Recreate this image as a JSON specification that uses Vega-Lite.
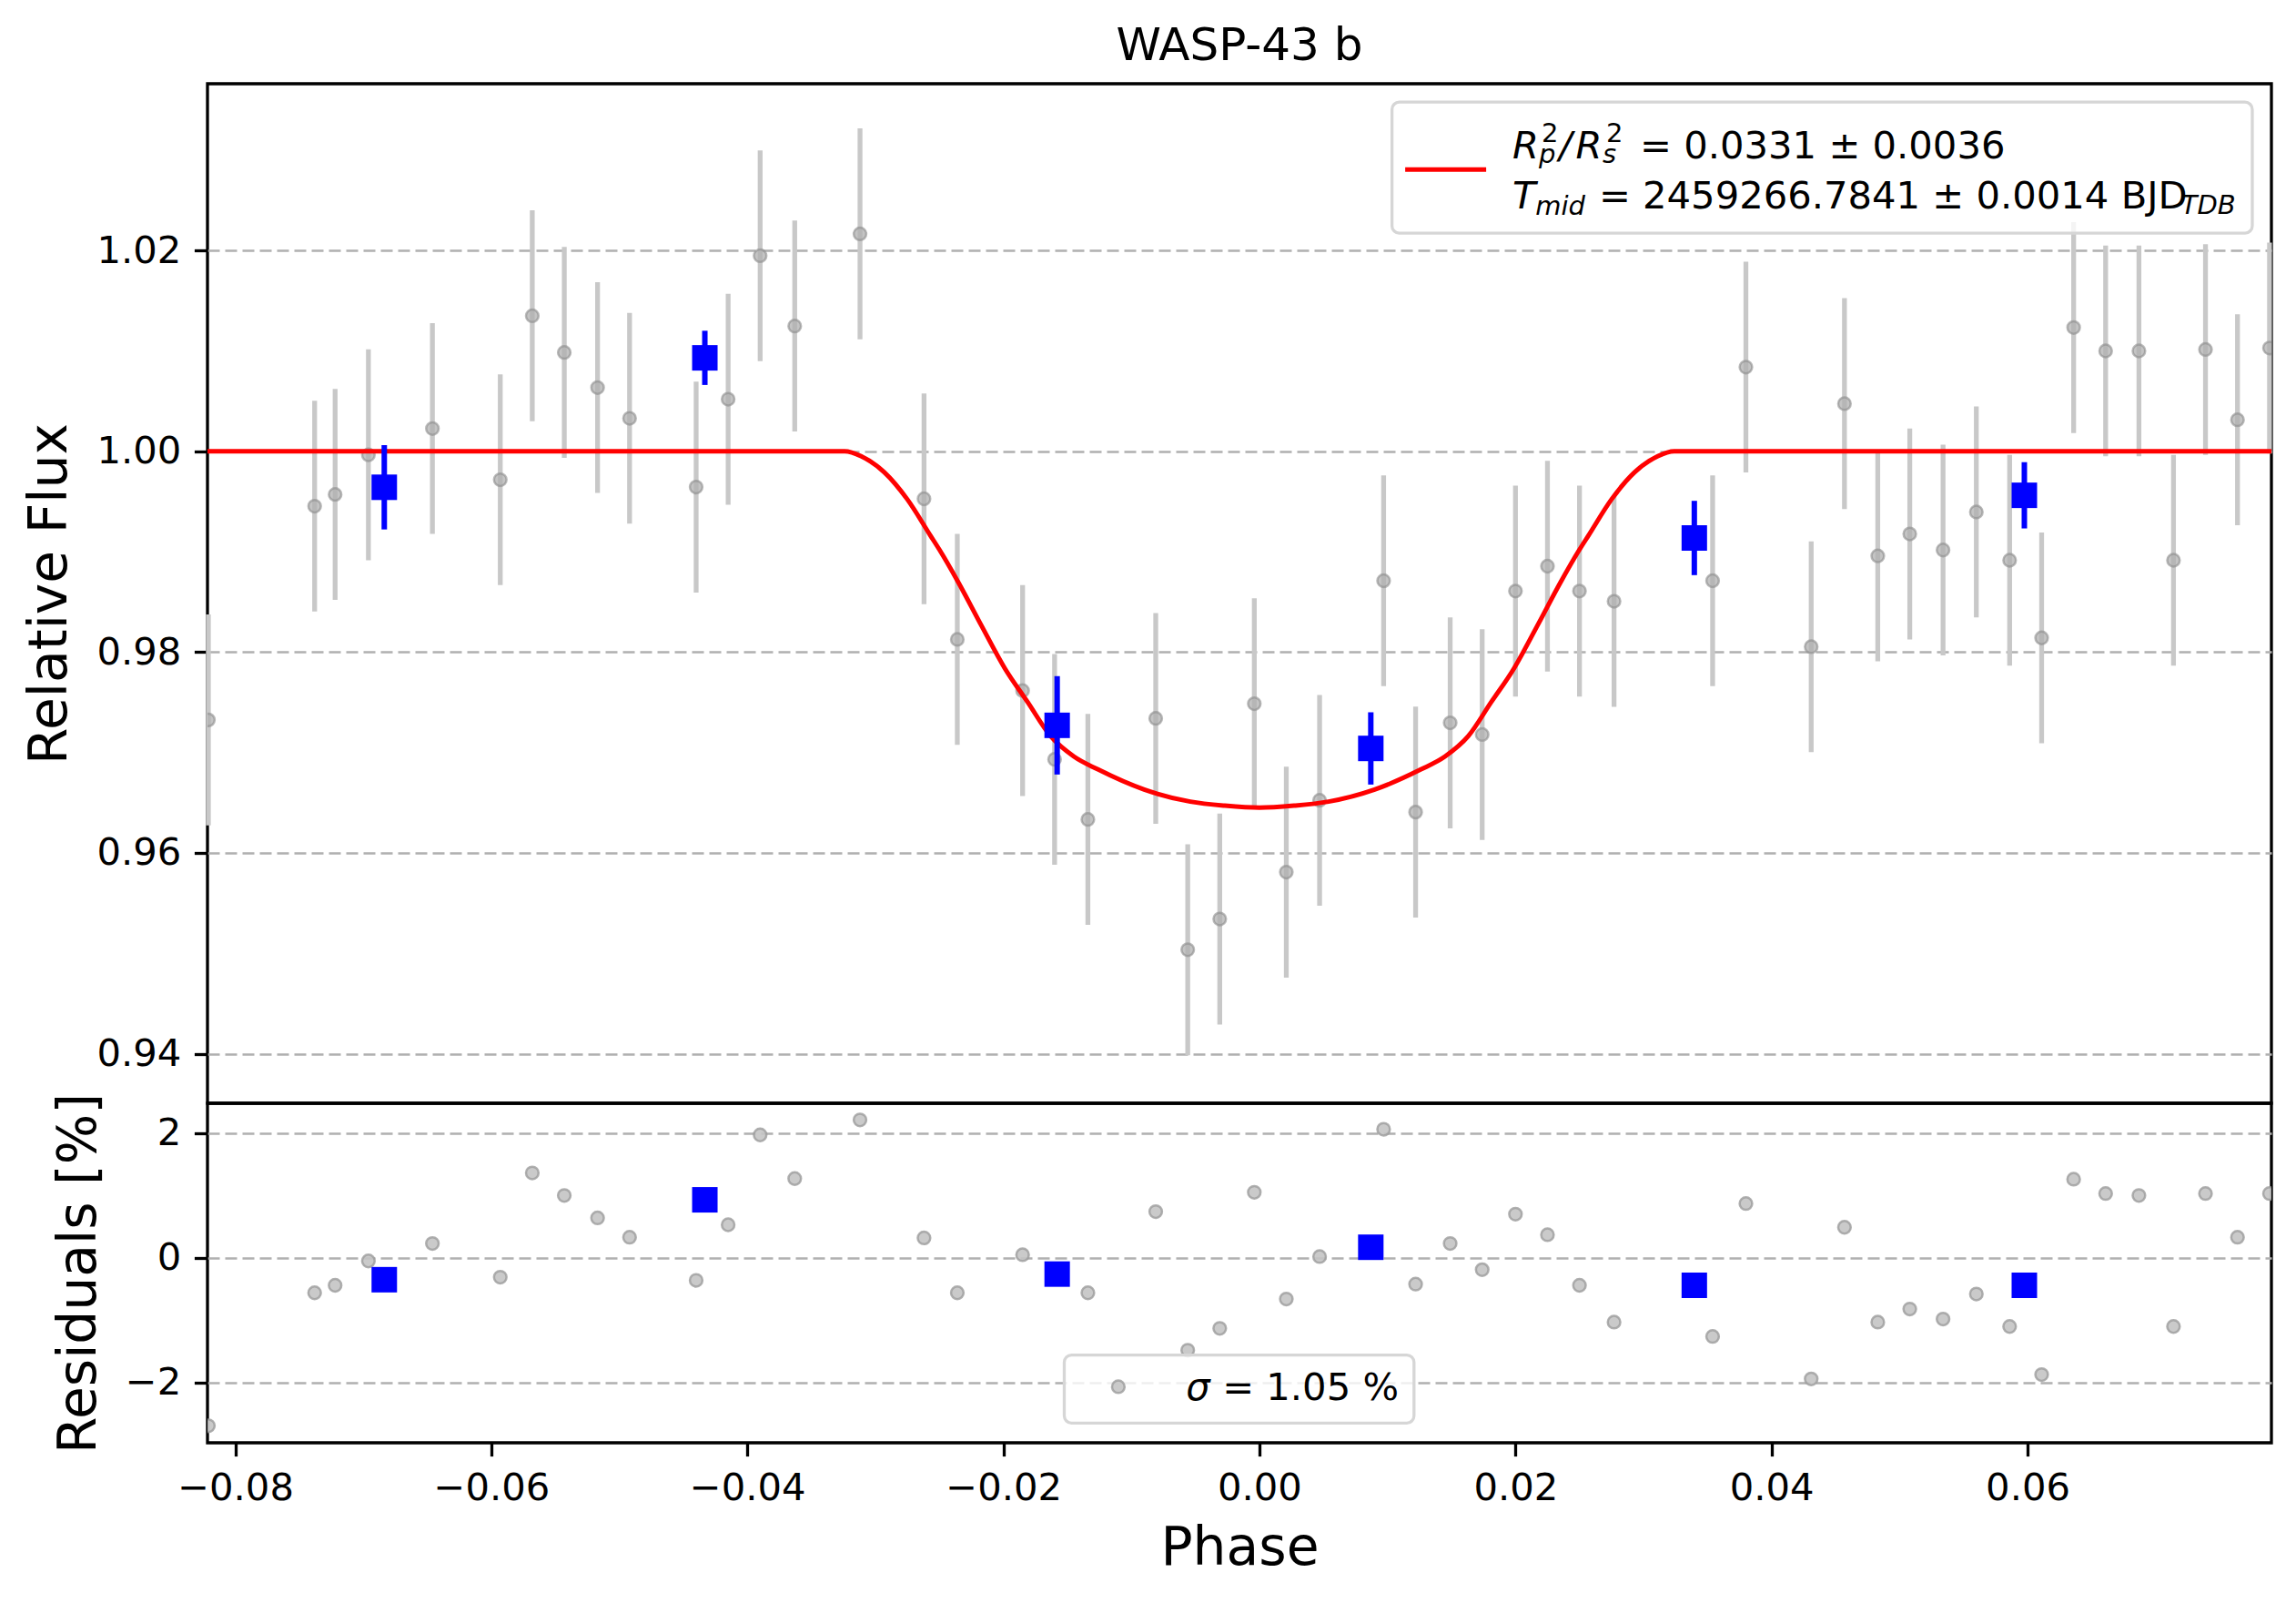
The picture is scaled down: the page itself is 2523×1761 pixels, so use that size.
{
  "$schema": "https://vega.github.io/schema/vega-lite/v6.json",
  "background": "white",
  "padding": {"left": 24, "top": 24, "right": 28, "bottom": 28},
  "spacing": 0,
  "bounds": "flush",
  "datasets": {
    "obs": [
      {"phase": -0.0821, "flux": 0.97324, "err": 0.0105, "resid": -2.69},
      {"phase": -0.0738, "flux": 0.99453, "err": 0.0105, "resid": -0.56},
      {"phase": -0.0722, "flux": 0.99570, "err": 0.0105, "resid": -0.44},
      {"phase": -0.0696, "flux": 0.99964, "err": 0.0105, "resid": -0.05},
      {"phase": -0.0646, "flux": 1.00226, "err": 0.0105, "resid": 0.23},
      {"phase": -0.0593, "flux": 0.99716, "err": 0.0105, "resid": -0.31},
      {"phase": -0.0568, "flux": 1.01349, "err": 0.0105, "resid": 1.36},
      {"phase": -0.0543, "flux": 1.00984, "err": 0.0105, "resid": 1.00},
      {"phase": -0.0517, "flux": 1.00634, "err": 0.0105, "resid": 0.64},
      {"phase": -0.0492, "flux": 1.00328, "err": 0.0105, "resid": 0.33},
      {"phase": -0.0440, "flux": 0.99643, "err": 0.0105, "resid": -0.36},
      {"phase": -0.0415, "flux": 1.00518, "err": 0.0105, "resid": 0.53},
      {"phase": -0.0390, "flux": 1.01947, "err": 0.0105, "resid": 1.97},
      {"phase": -0.0363, "flux": 1.01247, "err": 0.0105, "resid": 1.27},
      {"phase": -0.0312, "flux": 1.02165, "err": 0.0105, "resid": 2.21},
      {"phase": -0.0262, "flux": 0.99526, "err": 0.0105, "resid": 0.32},
      {"phase": -0.0236, "flux": 0.98126, "err": 0.0105, "resid": -0.56},
      {"phase": -0.0185, "flux": 0.97616, "err": 0.0105, "resid": 0.05},
      {"phase": -0.0160, "flux": 0.96931, "err": 0.0105, "resid": -0.24},
      {"phase": -0.0134, "flux": 0.96333, "err": 0.0105, "resid": -0.56},
      {"phase": -0.0081, "flux": 0.97339, "err": 0.0105, "resid": 0.74},
      {"phase": -0.0056, "flux": 0.95035, "err": 0.0105, "resid": -1.48},
      {"phase": -0.0031, "flux": 0.95341, "err": 0.0105, "resid": -1.13},
      {"phase": -0.0004, "flux": 0.97485, "err": 0.0105, "resid": 1.05},
      {"phase": 0.0021, "flux": 0.95808, "err": 0.0105, "resid": -0.66},
      {"phase": 0.0047, "flux": 0.96523, "err": 0.0105, "resid": 0.02},
      {"phase": 0.0097, "flux": 0.98710, "err": 0.0105, "resid": 2.06},
      {"phase": 0.0122, "flux": 0.96406, "err": 0.0105, "resid": -0.42},
      {"phase": 0.0149, "flux": 0.97295, "err": 0.0105, "resid": 0.23},
      {"phase": 0.0174, "flux": 0.97178, "err": 0.0105, "resid": -0.19},
      {"phase": 0.0200, "flux": 0.98607, "err": 0.0105, "resid": 0.70},
      {"phase": 0.0225, "flux": 0.98855, "err": 0.0105, "resid": 0.37},
      {"phase": 0.0250, "flux": 0.98607, "err": 0.0105, "resid": -0.44},
      {"phase": 0.0277, "flux": 0.98505, "err": 0.0105, "resid": -1.03},
      {"phase": 0.0354, "flux": 0.98710, "err": 0.0105, "resid": -1.26},
      {"phase": 0.0380, "flux": 1.00838, "err": 0.0105, "resid": 0.87},
      {"phase": 0.0431, "flux": 0.98053, "err": 0.0105, "resid": -1.94},
      {"phase": 0.0457, "flux": 1.00474, "err": 0.0105, "resid": 0.49},
      {"phase": 0.0483, "flux": 0.98958, "err": 0.0105, "resid": -1.03},
      {"phase": 0.0508, "flux": 0.99176, "err": 0.0105, "resid": -0.82},
      {"phase": 0.0534, "flux": 0.99016, "err": 0.0105, "resid": -0.98},
      {"phase": 0.0560, "flux": 0.99395, "err": 0.0105, "resid": -0.58},
      {"phase": 0.0586, "flux": 0.98914, "err": 0.0105, "resid": -1.10},
      {"phase": 0.0611, "flux": 0.98141, "err": 0.0105, "resid": -1.87},
      {"phase": 0.0636, "flux": 1.01232, "err": 0.0105, "resid": 1.26},
      {"phase": 0.0661, "flux": 1.00999, "err": 0.0105, "resid": 1.03},
      {"phase": 0.0687, "flux": 1.00999, "err": 0.0105, "resid": 1.00},
      {"phase": 0.0714, "flux": 0.98914, "err": 0.0105, "resid": -1.10},
      {"phase": 0.0739, "flux": 1.01013, "err": 0.0105, "resid": 1.03},
      {"phase": 0.0764, "flux": 1.00313, "err": 0.0105, "resid": 0.33},
      {"phase": 0.0789, "flux": 1.01028, "err": 0.0105, "resid": 1.03}
    ],
    "binned": [
      {"phase": -0.06836, "flux": 0.99641, "err": 0.0042, "resid": -0.35},
      {"phase": -0.04332, "flux": 1.00930, "err": 0.0027, "resid": 0.93},
      {"phase": -0.01580, "flux": 0.97270, "err": 0.0049, "resid": -0.26},
      {"phase": 0.00870, "flux": 0.97040, "err": 0.0036, "resid": 0.17},
      {"phase": 0.03397, "flux": 0.99136, "err": 0.0037, "resid": -0.44},
      {"phase": 0.05975, "flux": 0.99561, "err": 0.0033, "resid": -0.44}
    ],
    "model": [
      {"phase": -0.0822, "flux": 1.0},
      {"phase": -0.0324, "flux": 1.0},
      {"phase": -0.0311, "flux": 0.9995},
      {"phase": -0.0293, "flux": 0.9979},
      {"phase": -0.0275, "flux": 0.9952},
      {"phase": -0.0257, "flux": 0.9916},
      {"phase": -0.0250, "flux": 0.9902},
      {"phase": -0.0235, "flux": 0.9869},
      {"phase": -0.0217, "flux": 0.9826},
      {"phase": -0.0199, "flux": 0.9784},
      {"phase": -0.0181, "flux": 0.9750},
      {"phase": -0.0163, "flux": 0.9716},
      {"phase": -0.0145, "flux": 0.9696},
      {"phase": -0.0126, "flux": 0.9683},
      {"phase": -0.0090, "flux": 0.9663},
      {"phase": -0.0054, "flux": 0.9651},
      {"phase": -0.0027, "flux": 0.9647},
      {"phase": 0.0, "flux": 0.9645},
      {"phase": 0.0027, "flux": 0.9647},
      {"phase": 0.0054, "flux": 0.9651},
      {"phase": 0.0090, "flux": 0.9663},
      {"phase": 0.0126, "flux": 0.9683},
      {"phase": 0.0145, "flux": 0.9696},
      {"phase": 0.0163, "flux": 0.9716},
      {"phase": 0.0181, "flux": 0.9750},
      {"phase": 0.0199, "flux": 0.9784},
      {"phase": 0.0217, "flux": 0.9826},
      {"phase": 0.0235, "flux": 0.9869},
      {"phase": 0.0250, "flux": 0.9902},
      {"phase": 0.0257, "flux": 0.9916},
      {"phase": 0.0275, "flux": 0.9952},
      {"phase": 0.0293, "flux": 0.9979},
      {"phase": 0.0311, "flux": 0.9995},
      {"phase": 0.0324, "flux": 1.0},
      {"phase": 0.0791, "flux": 1.0}
    ],
    "note": [{"item": "legend"}]
  },
  "vconcat": [
    {
      "width": 2268,
      "height": 1120,
      "title": {"text": "WASP-43 b", "fontSize": 50, "fontWeight": "normal", "font": "DejaVu Sans", "anchor": "middle", "frame": "group", "baseline": "alphabetic", "offset": -24, "color": "black"},
      "layer": [
        {
          "data": {"name": "obs"},
          "mark": {"type": "errorbar", "color": "#c8c8c8", "thickness": 5.3},
          "encoding": {
            "x": {"field": "phase", "type": "quantitative", "scale": {"domain": [-0.08217, 0.07905], "nice": false, "zero": false}, "axis": null},
            "y": {"field": "flux", "type": "quantitative", "title": "Relative Flux", "scale": {"domain": [0.93506, 1.0366], "nice": false, "zero": false},
                  "axis": {"values": [0.94, 0.96, 0.98, 1.0, 1.02], "format": ".2f", "title": "Relative Flux", "titlePadding": 21, "grid": true}},
            "yError": {"field": "err"}
          }
        },
        {
          "data": {"name": "obs"},
          "mark": {"type": "point", "shape": "circle", "filled": true, "size": 190, "fill": "#b0b0b0", "fillOpacity": 0.75, "stroke": "#8c8c8c", "strokeOpacity": 0.6, "strokeWidth": 2.5, "clip": true},
          "encoding": {
            "x": {"field": "phase", "type": "quantitative"},
            "y": {"field": "flux", "type": "quantitative", "title": "Relative Flux"}
          }
        },
        {
          "data": {"name": "model"},
          "mark": {"type": "line", "color": "#ff0000", "strokeWidth": 5, "interpolate": "monotone", "clip": true},
          "encoding": {
            "x": {"field": "phase", "type": "quantitative"},
            "y": {"field": "flux", "type": "quantitative", "title": "Relative Flux"}
          }
        },
        {
          "data": {"name": "binned"},
          "mark": {"type": "errorbar", "color": "#0000ff", "thickness": 6},
          "encoding": {
            "x": {"field": "phase", "type": "quantitative"},
            "y": {"field": "flux", "type": "quantitative", "title": "Relative Flux"},
            "yError": {"field": "err"}
          }
        },
        {
          "data": {"name": "binned"},
          "mark": {"type": "point", "shape": "square", "filled": true, "size": 784, "color": "#0000ff", "opacity": 1},
          "encoding": {
            "x": {"field": "phase", "type": "quantitative"},
            "y": {"field": "flux", "type": "quantitative", "title": "Relative Flux"}
          }
        },
        {
          "data": {"name": "note"},
          "mark": {"type": "rect", "fill": "white", "fillOpacity": 0.8, "stroke": "#d6d6d6", "strokeWidth": 3.3, "cornerRadius": 8},
          "encoding": {
            "x": {"datum": 0.010355, "type": "quantitative"},
            "x2": {"datum": 0.077555},
            "y": {"datum": 1.03477, "type": "quantitative"},
            "y2": {"datum": 1.02172}
          }
        },
        {
          "data": {"name": "note"},
          "mark": {"type": "rule", "color": "#ff0000", "strokeWidth": 5},
          "encoding": {
            "x": {"datum": 0.011386, "type": "quantitative"},
            "x2": {"datum": 0.017711},
            "y": {"datum": 1.028066, "type": "quantitative"}
          }
        },
        {
          "data": {"name": "note"},
          "mark": {"type": "text", "text": "R", "font": "DejaVu Sans", "fontStyle": "italic", "fontSize": 41.7, "align": "left", "baseline": "alphabetic", "color": "black"},
          "encoding": {"x": {"datum": 0.019773, "type": "quantitative"}, "y": {"datum": 1.02913, "type": "quantitative"}}
        },
        {
          "data": {"name": "note"},
          "mark": {"type": "text", "text": "p", "font": "DejaVu Sans", "fontStyle": "italic", "fontSize": 29, "align": "left", "baseline": "alphabetic", "dy": 5, "color": "black"},
          "encoding": {"x": {"datum": 0.021834, "type": "quantitative"}, "y": {"datum": 1.02913, "type": "quantitative"}}
        },
        {
          "data": {"name": "note"},
          "mark": {"type": "text", "text": "2", "font": "DejaVu Sans", "fontSize": 29, "align": "left", "baseline": "alphabetic", "dy": -18, "color": "black"},
          "encoding": {"x": {"datum": 0.022047, "type": "quantitative"}, "y": {"datum": 1.02913, "type": "quantitative"}}
        },
        {
          "data": {"name": "note"},
          "mark": {"type": "text", "text": "/", "font": "DejaVu Sans", "fontStyle": "italic", "fontSize": 41.7, "align": "left", "baseline": "alphabetic", "color": "black"},
          "encoding": {"x": {"datum": 0.023413, "type": "quantitative"}, "y": {"datum": 1.02913, "type": "quantitative"}}
        },
        {
          "data": {"name": "note"},
          "mark": {"type": "text", "text": "R", "font": "DejaVu Sans", "fontStyle": "italic", "fontSize": 41.7, "align": "left", "baseline": "alphabetic", "color": "black"},
          "encoding": {"x": {"datum": 0.024708, "type": "quantitative"}, "y": {"datum": 1.02913, "type": "quantitative"}}
        },
        {
          "data": {"name": "note"},
          "mark": {"type": "text", "text": "s", "font": "DejaVu Sans", "fontStyle": "italic", "fontSize": 29, "align": "left", "baseline": "alphabetic", "dy": 5, "color": "black"},
          "encoding": {"x": {"datum": 0.026811, "type": "quantitative"}, "y": {"datum": 1.02913, "type": "quantitative"}}
        },
        {
          "data": {"name": "note"},
          "mark": {"type": "text", "text": "2", "font": "DejaVu Sans", "fontSize": 29, "align": "left", "baseline": "alphabetic", "dy": -18, "color": "black"},
          "encoding": {"x": {"datum": 0.027083, "type": "quantitative"}, "y": {"datum": 1.02913, "type": "quantitative"}}
        },
        {
          "data": {"name": "note"},
          "mark": {"type": "text", "text": "= 0.0331 ± 0.0036", "font": "DejaVu Sans", "fontSize": 41.7, "align": "left", "baseline": "alphabetic", "color": "black"},
          "encoding": {"x": {"datum": 0.029723, "type": "quantitative"}, "y": {"datum": 1.02913, "type": "quantitative"}}
        },
        {
          "data": {"name": "note"},
          "mark": {"type": "text", "text": "T", "font": "DejaVu Sans", "fontStyle": "italic", "fontSize": 41.7, "align": "left", "baseline": "alphabetic", "color": "black"},
          "encoding": {"x": {"datum": 0.019773, "type": "quantitative"}, "y": {"datum": 1.02414, "type": "quantitative"}}
        },
        {
          "data": {"name": "note"},
          "mark": {"type": "text", "text": "mid", "font": "DejaVu Sans", "fontStyle": "italic", "fontSize": 29, "align": "left", "baseline": "alphabetic", "dy": 7, "color": "black"},
          "encoding": {"x": {"datum": 0.021563, "type": "quantitative"}, "y": {"datum": 1.02414, "type": "quantitative"}}
        },
        {
          "data": {"name": "note"},
          "mark": {"type": "text", "text": "= 2459266.7841 ± 0.0014 BJD", "font": "DejaVu Sans", "fontSize": 41.7, "align": "left", "baseline": "alphabetic", "color": "black"},
          "encoding": {"x": {"datum": 0.026511, "type": "quantitative"}, "y": {"datum": 1.02414, "type": "quantitative"}}
        },
        {
          "data": {"name": "note"},
          "mark": {"type": "text", "text": "TDB", "font": "DejaVu Sans", "fontStyle": "italic", "fontSize": 29, "align": "left", "baseline": "alphabetic", "dy": 6, "color": "black"},
          "encoding": {"x": {"datum": 0.071999, "type": "quantitative"}, "y": {"datum": 1.02414, "type": "quantitative"}}
        }
      ]
    },
    {
      "width": 2268,
      "height": 373,
      "layer": [
        {
          "data": {"name": "obs"},
          "mark": {"type": "point", "shape": "circle", "filled": true, "size": 190, "fill": "#c4c4c4", "fillOpacity": 0.9, "stroke": "#9c9c9c", "strokeOpacity": 0.8, "strokeWidth": 2.5, "clip": true},
          "encoding": {
            "x": {"field": "phase", "type": "quantitative", "title": "Phase", "scale": {"domain": [-0.08217, 0.07905], "nice": false, "zero": false},
                  "axis": {"values": [-0.08, -0.06, -0.04, -0.02, 0, 0.02, 0.04, 0.06], "format": ".2f", "title": "Phase", "titlePadding": 17, "grid": false}},
            "y": {"field": "resid", "type": "quantitative", "title": "Residuals [%]", "scale": {"domain": [-2.963, 2.477], "nice": false, "zero": false},
                  "axis": {"values": [-2, 0, 2], "format": "d", "title": "Residuals [%]", "titlePadding": 21, "grid": true}}
          }
        },
        {
          "data": {"name": "binned"},
          "mark": {"type": "point", "shape": "square", "filled": true, "size": 784, "color": "#0000ff", "opacity": 1},
          "encoding": {
            "x": {"field": "phase", "type": "quantitative", "title": "Phase"},
            "y": {"field": "resid", "type": "quantitative", "title": "Residuals [%]"}
          }
        },
        {
          "data": {"name": "note"},
          "mark": {"type": "rect", "fill": "white", "fillOpacity": 0.8, "stroke": "#d6d6d6", "strokeWidth": 3.3, "cornerRadius": 8},
          "encoding": {
            "x": {"datum": -0.015245, "type": "quantitative"},
            "x2": {"datum": 0.012075},
            "y": {"datum": -1.5564, "type": "quantitative"},
            "y2": {"datum": -2.6473}
          }
        },
        {
          "data": {"name": "note"},
          "mark": {"type": "point", "shape": "circle", "filled": true, "size": 190, "fill": "#c4c4c4", "fillOpacity": 0.9, "stroke": "#9c9c9c", "strokeOpacity": 0.8, "strokeWidth": 2.5},
          "encoding": {"x": {"datum": -0.011023, "type": "quantitative"}, "y": {"datum": -2.0655, "type": "quantitative"}}
        },
        {
          "data": {"name": "note"},
          "mark": {"type": "text", "text": "σ", "font": "DejaVu Sans", "fontStyle": "italic", "fontSize": 41.7, "align": "left", "baseline": "alphabetic", "color": "black"},
          "encoding": {"x": {"datum": -0.005743, "type": "quantitative"}, "y": {"datum": -2.2836, "type": "quantitative"}}
        },
        {
          "data": {"name": "note"},
          "mark": {"type": "text", "text": "= 1.05 %", "font": "DejaVu Sans", "fontSize": 41.7, "align": "left", "baseline": "alphabetic", "color": "black"},
          "encoding": {"x": {"datum": -0.0029, "type": "quantitative"}, "y": {"datum": -2.2836, "type": "quantitative"}}
        }
      ]
    }
  ],
  "config": {
    "font": "DejaVu Sans",
    "view": {"stroke": "black", "strokeWidth": 3.3},
    "axis": {
      "domain": false,
      "labelFont": "DejaVu Sans",
      "labelFontSize": 41.7,
      "labelColor": "black",
      "labelFlush": false,
      "labelOverlap": false,
      "labelPadding": 14.6,
      "tickColor": "black",
      "tickWidth": 3.3,
      "tickSize": 14.6,
      "titleFont": "DejaVu Sans",
      "titleFontSize": 58.3,
      "titleFontWeight": "normal",
      "titleColor": "black",
      "gridColor": "#b0b0b0",
      "gridDash": [13, 6],
      "gridWidth": 2.7,
      "gridOpacity": 1
    }
  }
}
